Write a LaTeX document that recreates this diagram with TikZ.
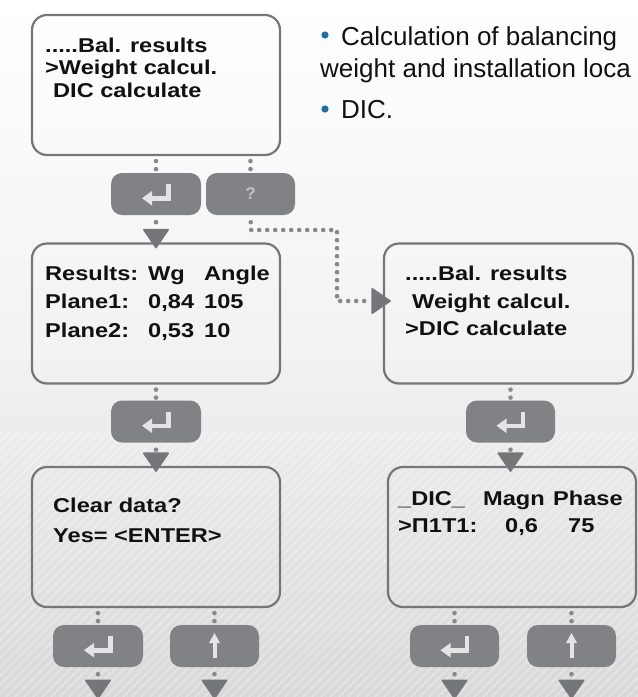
\documentclass[tikz,border=0pt]{standalone}
\usepackage{fontspec}
\setmainfont{Liberation Sans}
\newfontfamily\boxfont[FakeStretch=1.18]{Liberation Sans}
\usetikzlibrary{arrows.meta,calc}
\definecolor{boxline}{HTML}{76767A}
\definecolor{btn}{HTML}{808285}
\definecolor{glyph}{HTML}{E4E4E5}
\definecolor{dotc}{HTML}{88888B}
\definecolor{tric}{HTML}{75767A}
\definecolor{bulletc}{HTML}{1E6FA8}
\definecolor{txt}{HTML}{111111}
\tikzset{
  screen/.style={draw=boxline, line width=2.2pt, rounded corners=15pt, minimum width=248pt, minimum height=140pt, inner sep=0pt},
  keybtn/.style={fill=btn, rounded corners=11pt, minimum width=90pt, minimum height=42pt, inner sep=0pt},
  lcd/.style={font=\boxfont\bfseries\fontsize{20}{24}\selectfont, text=txt, anchor=base west, inner sep=0pt},
  note/.style={font=\fontsize{26}{30}\selectfont, text=txt, anchor=base west, inner sep=0pt},
  dotline/.style={draw=dotc, line width=4.6pt, line cap=round, dash pattern=on 0pt off 8pt},
  tip/.style={-{Triangle[width=27pt,length=20pt,line width=1.5pt,round,fill=tric,color=tric]}},
}
\newcommand{\entglyph}[1]{%
  \fill[glyph] ($(#1)+(10,-10)$) rectangle ($(#1)+(14.5,6.5)$);
  \fill[glyph] ($(#1)+(-6,2)$) rectangle ($(#1)+(14.5,6.5)$);
  \fill[glyph] ($(#1)+(-14,4.25)$) -- ($(#1)+(-4,-3)$) -- ($(#1)+(-4,11.5)$) -- cycle;}
\newcommand{\upglyph}[1]{%
  \fill[glyph] ($(#1)+(-2,-4)$) rectangle ($(#1)+(2,12)$);
  \fill[glyph] ($(#1)+(0,-13)$) -- ($(#1)+(5.5,-3)$) -- ($(#1)+(-5.5,-3)$) -- cycle;}
\begin{document}
\begin{tikzpicture}[x=1pt,y=-1pt]
\useasboundingbox (0,0) rectangle (638,697);
% background
\shade[top color=white, bottom color=white!85!black, middle color=white!95!black] (0,0) rectangle (638,697);
\begin{scope}
\clip (0,430) rectangle (638,697);
\foreach \i in {0,...,110} \draw[white, opacity=0.3, line width=1.6pt] (\i*9-300,697) -- ++(300,-300);
\end{scope}

% screens
\node[screen] (s1) at (156,85) {};
\node[screen] (s2) at (156,313.5) {};
\node[screen] (s3) at (156,537) {};
\node[screen, minimum width=249pt] (s4) at (508.5,313.5) {};
\node[screen] (s5) at (512,537) {};

% buttons
\node[keybtn] (e1) at (156,194) {};
\node[keybtn, minimum width=89pt] (q1) at (250.5,194) {};
\node[keybtn] (e2) at (156,421.5) {};
\node[keybtn] (e3) at (98,646) {};
\node[keybtn, minimum width=89pt] (u3) at (214.5,646) {};
\node[keybtn, minimum width=89pt] (e4) at (510.5,421.5) {};
\node[keybtn, minimum width=89pt] (e5) at (454.5,646) {};
\node[keybtn, minimum width=89pt] (u5) at (571.5,646) {};
\entglyph{e1}\entglyph{e2}\entglyph{e3}\entglyph{e4}\entglyph{e5}
\upglyph{u3}\upglyph{u5}
\node[font=\bfseries\fontsize{17}{17}\selectfont, text=glyph!85!black, inner sep=0pt] (qm) at (q1) {?};

% connectors box -> button
\draw[dotline, dash phase=3pt] (s1.south -| e1) -- (e1.north);
\draw[dotline, dash phase=3pt] (s1.south -| q1) -- (q1.north);
\draw[dotline, dash phase=3pt] (s2.south -| e2) -- (e2.north);
\draw[dotline, dash phase=3pt] (s4.south -| e4) -- (e4.north);
\draw[dotline, dash phase=3pt] (s3.south -| e3) -- (e3.north);
\draw[dotline, dash phase=3pt] (s3.south -| u3) -- (u3.north);
\draw[dotline, dash phase=3pt] (s5.south -| e5) -- (e5.north);
\draw[dotline, dash phase=3pt] (s5.south -| u5) -- (u5.north);

% connectors button -> box
\draw[dotline, dash phase=1pt, tip] (e1.south) -- ([yshift=-6pt]s2.north);
\draw[dotline, dash phase=1pt, tip] (e2.south) -- ([yshift=-6pt]s3.north);
\draw[dotline, dash phase=1pt, tip] (e4.south) -- ([yshift=-6pt]s5.north -| e4);
\coordinate (c1) at (251,230);
\coordinate (c2) at (337,230);
\coordinate (c3) at (337,301);
\draw[dotline, dash phase=1pt, tip] (q1.south) -- (c1) -- (c2) -- (c3) -- ([xshift=8pt]s4.west |- c3);
\coordinate (o1) at (98,699);
\coordinate (o2) at (214.5,699);
\coordinate (o3) at (454.5,699);
\coordinate (o4) at (571.5,699);
\draw[dotline, dash phase=1pt, tip] (e3.south) -- (o1);
\draw[dotline, dash phase=1pt, tip] (u3.south) -- (o2);
\draw[dotline, dash phase=1pt, tip] (e5.south) -- (o3);
\draw[dotline, dash phase=1pt, tip] (u5.south) -- (o4);

% screen texts
\node[lcd] (t11) at (45,52) {.....Bal. results};
\node[lcd] (t12) at (45,74) {>Weight calcul.};
\node[lcd] (t13) at (53,97) {DIC calculate};

\node[lcd] (t21) at (45,280) {Results:};
\node[lcd] (t22) at (148,280) {Wg};
\node[lcd] (t23) at (204,280) {Angle};
\node[lcd] (t24) at (45,308) {Plane1:};
\node[lcd] (t25) at (148,308) {0,84};
\node[lcd] (t26) at (204,308) {105};
\node[lcd] (t27) at (45,337) {Plane2:};
\node[lcd] (t28) at (148,337) {0,53};
\node[lcd] (t29) at (204,337) {10};

\node[lcd] (t31) at (53,512) {Clear data?};
\node[lcd] (t32) at (53,542) {Yes= <ENTER>};

\node[lcd] (t41) at (405,280) {.....Bal. results};
\node[lcd] (t42) at (412,308) {Weight calcul.};
\node[lcd] (t43) at (405,335) {>DIC calculate};

\node[lcd] (t51) at (398,505) {\_DIC\_};
\node[lcd] (t52) at (483,505) {Magn};
\node[lcd] (t53) at (553,505) {Phase};
\node[lcd] (t54) at (398,532) {>П1Т1:};
\node[lcd] (t55) at (505,532) {0,6};
\node[lcd] (t56) at (568,532) {75};

% notes
\fill[bulletc] (325,35) circle (3.6);
\node[note] (n1) at (341,45) {Calculation of balancing};
\node[note] (n2) at (320,77) {weight and installation loca};
\fill[bulletc] (325,109) circle (3.6);
\node[note] (n3) at (341,118) {DIC.};
\end{tikzpicture}
\end{document}
